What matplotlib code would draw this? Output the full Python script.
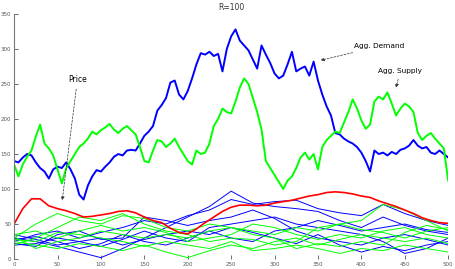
import numpy as np
import matplotlib
matplotlib.use("Agg")
import matplotlib.pyplot as plt

# aggregate series, read every 5 steps
t5 = np.arange(0, 501, 5)
demand = [140, 138, 145, 150, 148, 138, 130, 125, 115, 128, 132, 130, 138, 128, 115, 92, 85, 105, 118, 127,
          125, 132, 138, 146, 150, 148, 155, 156, 155, 165, 176, 182, 190, 212, 220, 230, 252, 255, 235, 228,
          240, 258, 278, 294, 292, 296, 290, 293, 268, 300, 318, 328, 312, 305, 298, 285, 272, 305, 292, 280,
          265, 258, 262, 278, 296, 268, 272, 275, 262, 282, 255, 235, 218, 205, 180, 178, 172, 168, 165, 160,
          152, 140, 125, 155, 150, 152, 148, 153, 150, 156, 158, 162, 170, 162, 158, 160, 152, 150, 155, 150, 145]
supply = [135, 118, 135, 146, 155, 175, 192, 165, 158, 148, 128, 108, 130, 140, 150, 160, 165, 172, 182, 178,
          184, 188, 193, 185, 180, 186, 190, 184, 178, 160, 140, 138, 155, 170, 168, 160, 165, 172, 160, 150,
          140, 135, 155, 150, 152, 165, 190, 200, 215, 210, 208, 225, 245, 258, 250, 230, 210, 185, 140, 130,
          120, 110, 100, 112, 118, 130, 145, 152, 142, 150, 128, 160, 170, 176, 182, 180, 195, 210, 228, 215,
          198, 186, 192, 225, 232, 228, 238, 222, 205, 215, 222, 218, 210, 180, 170, 176, 180, 172, 165, 158, 112]

t10 = np.arange(0, 501, 10)
price = [50, 72, 86, 86, 76, 72, 69, 65, 60, 61, 63, 65, 68, 69, 66, 60, 55, 52, 44, 38,
         36, 43, 52, 60, 68, 74, 77, 77, 76, 77, 80, 82, 84, 87, 90, 92, 95, 96, 95, 93,
         90, 88, 83, 79, 75, 70, 65, 59, 55, 52, 51]

# individual agents, read every 25 steps
t25 = np.arange(0, 501, 25)
blue_agents = [
    [30, 25, 18, 10, 2, 15, 30, 45, 60, 75, 97, 80, 75, 72, 68, 55, 45, 60, 48, 40, 35],
    [25, 35, 40, 30, 38, 45, 55, 50, 62, 70, 85, 78, 82, 84, 72, 66, 62, 78, 65, 55, 48],
    [20, 22, 30, 25, 30, 20, 28, 35, 40, 35, 45, 38, 30, 22, 35, 20, 10, 18, 12, 20, 25],
    [35, 28, 20, 25, 18, 28, 40, 30, 25, 45, 50, 55, 60, 50, 45, 40, 35, 25, 8, 15, 30],
    [28, 32, 25, 15, 22, 35, 25, 20, 30, 40, 30, 25, 40, 45, 55, 48, 40, 45, 50, 42, 38],
    [22, 18, 35, 40, 28, 30, 60, 55, 48, 55, 60, 70, 58, 40, 30, 25, 20, 30, 35, 28, 20],
]
green_agents = [
    [30, 50, 65, 55, 50, 62, 58, 45, 40, 50, 45, 40, 35, 45, 40, 50, 55, 78, 70, 55, 40],
    [25, 20, 15, 22, 18, 12, 20, 10, 2, 12, 20, 15, 25, 30, 20, 28, 35, 30, 25, 30, 22],
    [35, 40, 30, 40, 48, 40, 45, 38, 25, 30, 35, 50, 45, 35, 28, 35, 30, 40, 45, 35, 30],
    [28, 25, 38, 35, 30, 25, 18, 25, 20, 15, 25, 12, 15, 20, 15, 8, 15, 12, 20, 15, 10],
    [20, 30, 45, 60, 55, 65, 50, 40, 35, 25, 30, 28, 20, 25, 45, 50, 42, 38, 30, 40, 45],
    [32, 15, 25, 30, 40, 35, 30, 35, 30, 40, 45, 35, 30, 15, 22, 18, 25, 20, 38, 48, 42],
]

fig = plt.figure(figsize=(4.55, 2.69), dpi=100)
ax = fig.add_axes([0.031, 0.037, 0.954, 0.911])

for a in blue_agents:
    ax.plot(t25, a, color="#0000ff", lw=0.7)
for a in green_agents:
    ax.plot(t25, a, color="#00ff00", lw=0.7)

ax.plot(t5, demand, color="#0000ff", lw=1.4)
ax.plot(t5, supply, color="#00ff00", lw=1.4)
ax.plot(t10, price, color="#ff0000", lw=1.2)

ax.set_xlim(0, 500)
ax.set_ylim(0, 350)
ax.set_xticks(np.arange(0, 501, 50))
ax.set_yticks(np.arange(0, 351, 50))
ax.tick_params(direction="in", length=3, width=0.6, labelsize=4, colors="#555555", pad=2)
for s in ["top", "right", "bottom"]:
    ax.spines[s].set_visible(False)
ax.spines["left"].set_color("#777777")
ax.spines["left"].set_linewidth(0.8)

ax.set_title("R=100", fontsize=5.5, color="#333333", pad=3)

arr = dict(arrowstyle="-|>", linestyle=(0, (3, 2)), color="#333333", lw=0.5, mutation_scale=5)
ax.annotate("Price", xy=(55, 80), xytext=(73, 257), fontsize=5.5, ha="center", va="center",
            arrowprops=arr)
ax.annotate("Agg. Demand", xy=(350, 283), xytext=(421, 304), fontsize=5.3, ha="center", va="center",
            arrowprops=arr)
ax.annotate("Agg. Supply", xy=(439, 241), xytext=(445, 269), fontsize=5.3, ha="center", va="center",
            arrowprops=arr)

plt.savefig("out.png", dpi=100)
